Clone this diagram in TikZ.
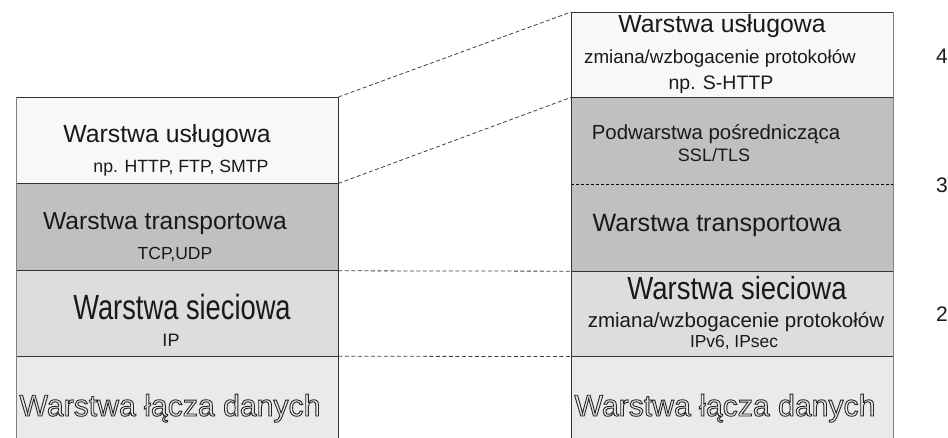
\documentclass[tikz,border=0pt]{standalone}
\usepackage{fontspec}
\setmainfont{Liberation Sans}
\usetikzlibrary{positioning}
\definecolor{topfill}{HTML}{F8F8F8}
\definecolor{midfill}{HTML}{C0C0C0}
\definecolor{netfill}{HTML}{DDDDDD}
\definecolor{linkfill}{HTML}{EAEAEA}
\definecolor{rim}{HTML}{333333}
\definecolor{siderim}{HTML}{808080}
\newcommand{\txtsize}[1]{\fontsize{#1}{#1}\selectfont}
% outline-only glyphs (text render mode 1)
\newcommand{\hollow}[1]{\special{pdf:literal direct 1 Tr 0.9 w 0.15 G}#1\special{pdf:literal direct 0 Tr}}

\begin{document}
\begin{tikzpicture}[
  x=1pt, y=-1pt,
  layer/.style={inner sep=0pt, minimum width=322pt, anchor=north west},
  label/.style={inner sep=0pt, anchor=base, text=black!90},
  sep/.style={rim, line width=0.8pt},
  side/.style={siderim, line width=0.8pt},
  link/.style={black!75, dash pattern=on 4pt off 2.5pt, line width=0.8pt},
  ]
  \useasboundingbox (0,0) rectangle (948,438);
  % Left stack
  \node[layer, fill=topfill, minimum height=86pt] (lu) at (16,97) {};
  \node[layer, fill=midfill, minimum height=87pt, below=0pt of lu] (lt) {};
  \node[layer, fill=netfill, minimum height=85pt, below=0pt of lt] (ls) {};
  \node[layer, fill=linkfill, minimum height=83pt, below=0pt of ls] (ll) {};
  % Right stack
  \node[layer, fill=topfill, minimum height=85pt] (ru) at (571,12) {};
  \node[layer, fill=midfill, minimum height=87pt, below=0pt of ru] (rp) {};
  \node[layer, fill=midfill, minimum height=86pt, below=0pt of rp] (rt) {};
  \node[layer, fill=netfill, minimum height=85pt, below=0pt of rt] (rs) {};
  \node[layer, fill=linkfill, minimum height=83pt, below=0pt of rs] (rl) {};
  % Borders
  \foreach \n in {lu,lt,ls,ll,ru,rp,rs,rl}
    \draw[sep] (\n.north west) -- (\n.north east);
  \draw[black, dash pattern=on 3pt off 2pt, line width=0.6pt]
    (rt.north west) -- (rt.north east);
  \draw[side] (lu.north west) -- (ll.south west);
  \draw[sep] (lu.north east) -- (ll.south east);
  \draw[sep] (ru.north west) -- (rl.south west);
  \draw[side] (ru.north east) -- (rl.south east);
  % Dashed links
  \draw[link] (lu.north east) -- (ru.north west);
  \draw[link] (lt.north east) -- (rp.north west);
  \draw[link] (ls.north east) -- (rs.north west);
  \draw[link] (ll.north east) -- (rl.north west);
  % Left labels
  \node[label, font=\txtsize{24.8}] (luname) at (167,143) {Warstwa usługowa};
  \node[label, font=\txtsize{17.7}] (luproto) at (181,173) {np. HTTP, FTP, SMTP};
  \node[label, font=\txtsize{24.6}] (ltname) at (165,230) {Warstwa transportowa};
  \node[label, font=\txtsize{17.5}] (ltproto) at (175,260) {TCP,UDP};
  \node[label, font=\txtsize{35}, xscale=0.78] (lsname) at (182,320) {Warstwa sieciowa};
  \node[label, font=\txtsize{18}] (lsproto) at (171,347) {IP};
  \node[label, font=\txtsize{30.2}] (llname) at (170,416) {\hollow{Warstwa łącza danych}};
  % Right labels
  \node[label, font=\txtsize{24.8}] (runame) at (722,33) {Warstwa usługowa};
  \node[label, font=\txtsize{18.8}] (ruchange) at (720,64) {zmiana/wzbogacenie protokołów};
  \node[label, font=\txtsize{19.5}] (ruproto) at (721,90) {np. S-HTTP};
  \node[label, font=\txtsize{20.4}] (rpname) at (716,140) {Podwarstwa pośrednicząca};
  \node[label, font=\txtsize{18}] (rpproto) at (714,162) {SSL/TLS};
  \node[label, font=\txtsize{25.1}] (rtname) at (717,232) {Warstwa transportowa};
  \node[label, font=\txtsize{32}, xscale=0.86] (rsname) at (737,300) {Warstwa sieciowa};
  \node[label, font=\txtsize{20.5}] (rschange) at (736,328) {zmiana/wzbogacenie protokołów};
  \node[label, font=\txtsize{17.4}] (rsproto) at (734,348) {IPv6, IPsec};
  \node[label, font=\txtsize{30.2}] (rlname) at (725,416) {\hollow{Warstwa łącza danych}};
  % Layer numbers
  \node[label, font=\txtsize{21}] (numfour) at (942,64) {4};
  \node[label, font=\txtsize{21}] (numthree) at (942,193) {3};
  \node[label, font=\txtsize{21}] (numtwo) at (942,322) {2};
\end{tikzpicture}
\end{document}
